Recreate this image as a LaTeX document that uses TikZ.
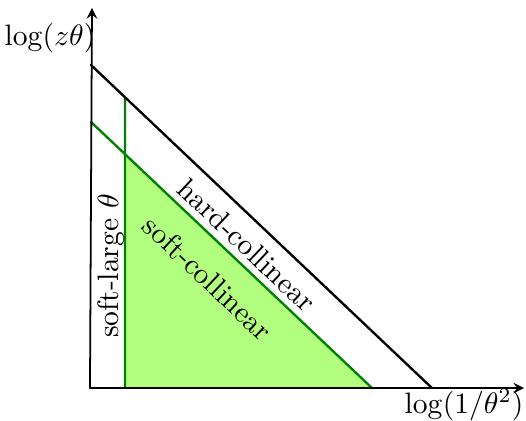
\documentclass[tikz,border=0pt]{standalone}
\definecolor{softgreen}{RGB}{0,130,0}
\definecolor{fillgreen}{RGB}{178,255,128}
\begin{document}
\begin{tikzpicture}[scale=1, line join=round, line cap=round, >=stealth]
	\useasboundingbox (-1.071,-0.381) rectangle (5.19,4.619);
	\path 
	(0,0) coordinate (O)
	(5.167,0) coordinate (X)
	(0.024,4.524) coordinate (Y)
	(0.012,3.845) coordinate (H1)
	(4.071,0) coordinate (H2)
	(0.012,3.167) coordinate (S1)
	(3.357,0) coordinate (S2)
	(0.417,3.452) coordinate (L1)
	(0.417,0) coordinate (L2)
	(intersection of S1--S2 and L1--L2) coordinate (P)
	;
	\fill[fillgreen] (L2)--(P)--(S2)--cycle;
	\draw[thick, softgreen] (S1)--(S2) (L1)--(L2);
	\draw[thick] (H1)--(H2);
	\draw[semithick,->] (O)--(X);
	\draw[semithick,->] (O)--(Y);
	\node (ylab) at (-0.476,4.167) {$\log(z\theta)$};
	\node (xlab) at (4.452,-0.202) {$\log(1/\theta^2)$};
	\node[rotate=-43.45] (hard) at (1.869,1.702) {hard-collinear};
	\node[rotate=-43.4] (soft) at (1.405,1.310) {soft-collinear};
	\node[rotate=90] (large) at (0.25,1.452) {soft-large $\theta$};
\end{tikzpicture}
\end{document}
